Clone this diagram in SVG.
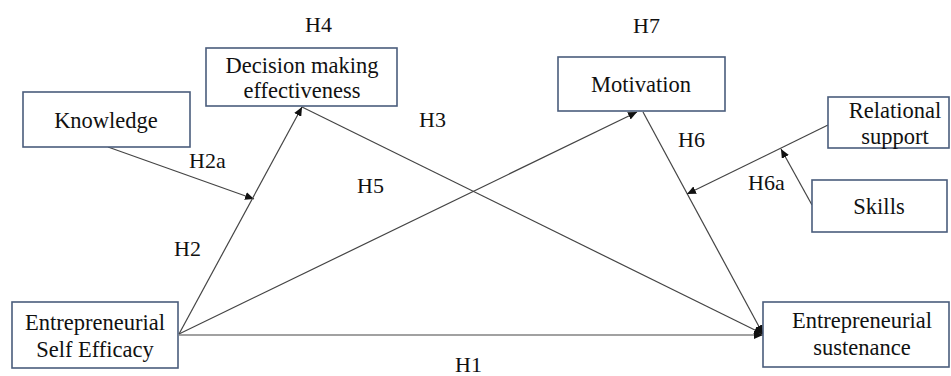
<svg xmlns="http://www.w3.org/2000/svg" width="951" height="376" viewBox="0 0 951 376">
<defs>
<style>
.box{fill:#fff;stroke:#4a5d7c;stroke-width:1.6}
text{font-family:'Liberation Serif','Times New Roman',serif;font-size:22.5px;fill:#111}
.t{text-anchor:middle}
.l{font-size:22px}
.c{stroke:#444;stroke-width:1.2;fill:none}
</style>
<marker id="ah" markerUnits="userSpaceOnUse" markerWidth="10" markerHeight="8" refX="9" refY="4" orient="auto">
<path d="M0,0 L9,4 L0,8 Z" fill="#111"/>
</marker>
</defs>
<rect width="951" height="376" fill="#fff"/>
<g id="connectors">
<line class="c" x1="108" y1="147" x2="254" y2="199" marker-end="url(#ah)"/>
<line class="c" x1="179" y1="334" x2="302" y2="107" marker-end="url(#ah)"/>
<line class="c" x1="179" y1="334" x2="637" y2="112" marker-end="url(#ah)"/>
<line class="c" x1="179" y1="335" x2="763" y2="335" marker-end="url(#ah)"/>
<line class="c" x1="302" y1="107" x2="763" y2="334" marker-end="url(#ah)"/>
<line class="c" x1="643" y1="112" x2="763" y2="334" marker-end="url(#ah)"/>
<line class="c" x1="828" y1="125" x2="687" y2="194" marker-end="url(#ah)"/>
<line class="c" x1="812" y1="205" x2="781" y2="149" marker-end="url(#ah)"/>
</g>
<g id="labels">
<text class="l" x="305" y="32">H4</text>
<text class="l" x="633" y="33">H7</text>
<text class="l" x="419" y="127">H3</text>
<text class="l" x="189" y="168">H2a</text>
<text class="l" x="357" y="193">H5</text>
<text class="l" x="678" y="147">H6</text>
<text class="l" x="748" y="190">H6a</text>
<text class="l" x="174" y="256">H2</text>
<text class="l" x="455" y="372">H1</text>
</g>
<g id="knowledge">
<rect class="box" x="23" y="92" width="167" height="55"/>
<text class="t" x="106" y="128">Knowledge</text>
</g>
<g id="decision">
<rect class="box" x="206" y="48" width="191" height="58"/>
<text class="t" x="302" y="73">Decision making</text>
<text class="t" x="302" y="98">effectiveness</text>
</g>
<g id="motivation">
<rect class="box" x="558" y="57" width="167" height="54"/>
<text class="t" x="641" y="92">Motivation</text>
</g>
<g id="relational">
<rect class="box" x="828" y="97" width="121" height="51"/>
<text class="t" x="895" y="118">Relational</text>
<text class="t" x="895" y="144">support</text>
</g>
<g id="skills">
<rect class="box" x="812" y="180" width="135" height="52"/>
<text class="t" x="879" y="214">Skills</text>
</g>
<g id="ese">
<rect class="box" x="12" y="302" width="166" height="66"/>
<text class="t" x="95" y="330">Entrepreneurial</text>
<text class="t" x="95" y="357">Self Efficacy</text>
</g>
<g id="es">
<rect class="box" x="763" y="302" width="186" height="65"/>
<text class="t" x="862" y="328">Entrepreneurial</text>
<text class="t" x="862" y="355">sustenance</text>
</g>
</svg>
